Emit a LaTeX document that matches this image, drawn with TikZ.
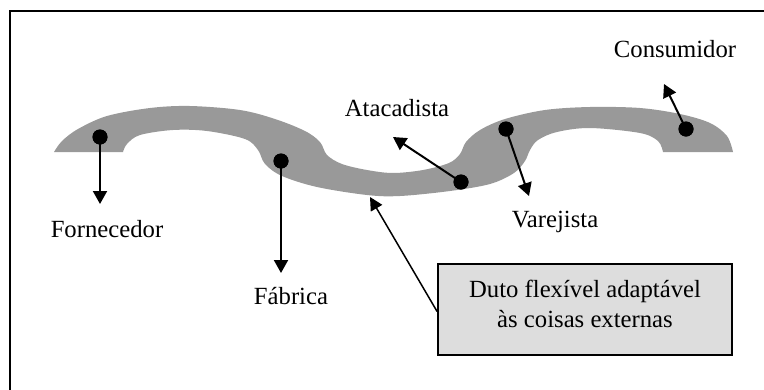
\documentclass[tikz,border=0pt]{standalone}
\usepackage{fontspec}
\setmainfont{Liberation Serif}
\usetikzlibrary{arrows.meta}
\definecolor{bandgray}{RGB}{153,153,153}
\definecolor{boxgray}{RGB}{221,221,221}
\tikzset{
  lbl/.style={anchor=base, inner sep=0pt, font=\fontsize{24.7}{30}\selectfont},
  dot/.style={circle, fill=black, inner sep=0pt, minimum size=15pt},
  arr/.style={line width=2pt, -{Triangle[length=13pt, width=14pt]}},
  thinarr/.style={line width=1.5pt, -{Triangle[length=13pt, width=13pt]}},
  calloutbox/.style={draw=black, line width=1.8pt, fill=boxgray,
    minimum width=294pt, minimum height=91pt, inner sep=0pt},
  band/.style={fill=bandgray}
}
\begin{document}
\begin{tikzpicture}[x=1pt, y=-1pt]
  \useasboundingbox (0,0) rectangle (764,389);
  \begin{scope}
    \clip (0,0) rectangle (764,389);
    \draw[line width=2pt] (9.5,10.5) rectangle (790,420);
  \end{scope}

  % the flexible duct: upper edge left to right, lower edge right to left
  \fill[band]
    plot[smooth, tension=0.55] coordinates {
      (54,152) (62,141) (78,129) (107,116) (150,108) (190,106) (240,110)
      (275,119) (305,131) (320,142) (327,155) (342,164) (367,170) (393,173)
      (423,170) (449,163) (460,154) (466,142) (480,130) (505,119) (545,110)
      (590,107) (640,108) (680,114) (710,123) (727,136) (733,152) }
    -- plot[smooth, tension=0.55] coordinates {
      (663,152) (658,141) (640,133) (590,128) (557,132) (538,140) (530,150)
      (525,161) (514,173) (490,184) (450,191) (400,196) (367,195) (317,187)
      (282,176) (265,164) (258,150) (245,139) (207,131) (173,130) (140,135)
      (127,144) (123,152) }
    -- cycle;

  % points along the duct
  \node[dot] (pforn) at (100,137) {};
  \node[dot] (pfab)  at (281,161) {};
  \node[dot] (patac) at (461,182) {};
  \node[dot] (pvar)  at (506,129) {};
  \node[dot] (pcons) at (686,129) {};

  % arrow ends
  \coordinate (eforn) at (100,204);
  \coordinate (efab)  at (281,273);
  \coordinate (eatac) at (393,137);
  \coordinate (evar)  at (529,196);
  \coordinate (econs) at (664,84);
  \coordinate (educt) at (370,197);

  \draw[arr] (pforn.center) -- (eforn);
  \draw[arr] (pfab.center)  -- (efab);
  \draw[arr] (patac.center) -- (eatac);
  \draw[arr] (pvar.center)  -- (evar);
  \draw[arr] (pcons.center) -- (econs);

  % redraw the dots over the line starts
  \foreach \p in {pforn,pfab,patac,pvar,pcons}
    \fill (\p.center) circle (7.5pt);

  % labels
  \node[lbl] (tforn) at (107,237.5) {Fornecedor};
  \node[lbl] (tfab)  at (291,304)   {Fábrica};
  \node[lbl] (tatac) at (397,116)   {Atacadista};
  \node[lbl] (tvar)  at (555,227)   {Varejista};
  \node[lbl] (tcons) at (675,57)    {Consumidor};

  % callout box
  \node[calloutbox] (duto) at (585,309.5) {};
  \node[lbl] (duto1) at (585,297) {Duto flexível adaptável};
  \node[lbl] (duto2) at (585,327) {às coisas externas};
  \draw[thinarr] ([yshift=-2pt]duto.west) -- (educt);
\end{tikzpicture}
\end{document}
